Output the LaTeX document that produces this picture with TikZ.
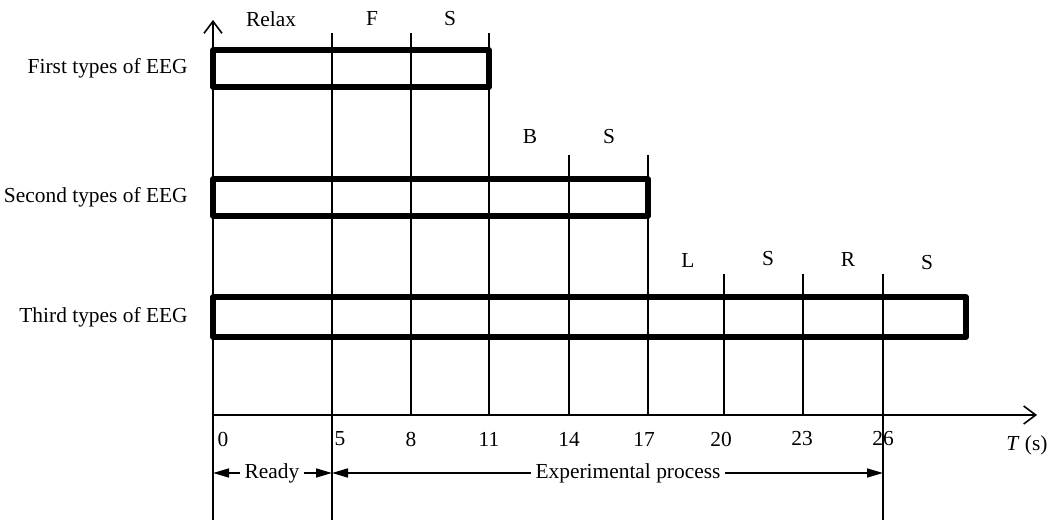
\documentclass[tikz,border=0pt]{standalone}
\usepackage{fontspec}
\setmainfont{Liberation Serif}
\usetikzlibrary{arrows.meta}

\begin{document}
\begin{tikzpicture}[
  x=0.5pt, y=-0.5pt,
  font=\fontsize{10.7}{12}\selectfont,
  tickline/.style={line width=0.8pt},
  timeaxis/.style={line width=0.8pt, -{Straight Barb[length=6pt,width=9pt]}},
  eegbox/.style={line width=2.8pt, line join=round},
  txt/.style={inner sep=2pt},
  dimline/.style={line width=0.8pt, -{Triangle[length=8pt,width=4.5pt]}}
]
\useasboundingbox (0,0) rectangle (1053,522);

% Axes
\coordinate (bot0) at (213,520);
\coordinate (ytip) at (213,20);
\coordinate (orig) at (213,415);
\coordinate (xtip) at (1037,415);
\draw[timeaxis] (bot0) -- (ytip);
\draw[timeaxis] (orig) -- (xtip);
\node[txt] (n0) at (223,439) {0};
\node[txt] (unit) at (1027,445) {\textit{T} (s)};

% Time marks
\foreach \t/\x/\lx/\top/\bot in {5/332/340/33/520, 8/411/411/33/415, 11/489/489/33/415,
    14/569/569/155/415, 17/648/644/155/415, 20/724/721/274/415,
    23/803/802/274/415, 26/883/883/274/520} {
  \coordinate (top\t) at (\x,\top);
  \coordinate (bot\t) at (\x,\bot);
  \draw[tickline] (top\t) -- (bot\t);
  \node[txt] (n\t) at (\lx,439) {\t};
}

% EEG blocks
\draw[eegbox] (213,50) rectangle (489,87);
\draw[eegbox] (213,179) rectangle (648,216);
\draw[eegbox] (213,297) rectangle (966,337);

% Row names
\node[txt, anchor=east] (first) at (192,68) {First types of EEG};
\node[txt, anchor=east] (second) at (192,197) {Second types of EEG};
\node[txt, anchor=east] (third) at (192,317) {Third types of EEG};

% Stage names
\node[txt] (relax) at (271,19) {Relax};
\node[txt] (f1) at (372,19) {F};
\node[txt] (s1) at (450,19) {S};
\node[txt] (b2) at (530,137) {B};
\node[txt] (s2) at (609,137) {S};
\node[txt] (l3) at (688,260) {L};
\node[txt] (s3) at (768,259) {S};
\node[txt] (r3) at (848,259) {R};
\node[txt] (s4) at (927,263) {S};

% Periods
\node[txt] (ready) at (272,473) {Ready};
\node[txt] (exper) at (628,473) {Experimental process};
\draw[dimline] (ready.west) -- (ready -| bot0);
\draw[dimline] (ready.east) -- (ready -| bot5);
\draw[dimline] (exper.west) -- (exper -| bot5);
\draw[dimline] (exper.east) -- (exper -| bot26);

\end{tikzpicture}
\end{document}
